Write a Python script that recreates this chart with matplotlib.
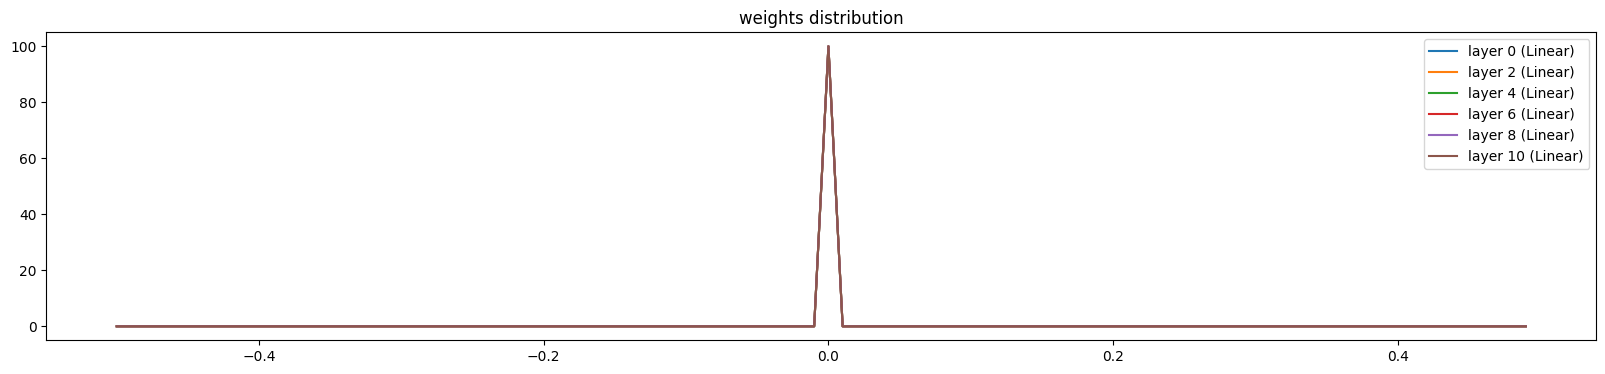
import matplotlib
matplotlib.use('Agg')
import matplotlib.pyplot as plt

# histogram bin left edges
bin_edges = [
    -0.50, -0.49, -0.48, -0.47, -0.46, -0.45, -0.44, -0.43, -0.42, -0.41,
    -0.40, -0.39, -0.38, -0.37, -0.36, -0.35, -0.34, -0.33, -0.32, -0.31,
    -0.30, -0.29, -0.28, -0.27, -0.26, -0.25, -0.24, -0.23, -0.22, -0.21,
    -0.20, -0.19, -0.18, -0.17, -0.16, -0.15, -0.14, -0.13, -0.12, -0.11,
    -0.10, -0.09, -0.08, -0.07, -0.06, -0.05, -0.04, -0.03, -0.02, -0.01,
    0.00, 0.01, 0.02, 0.03, 0.04, 0.05, 0.06, 0.07, 0.08, 0.09,
    0.10, 0.11, 0.12, 0.13, 0.14, 0.15, 0.16, 0.17, 0.18, 0.19,
    0.20, 0.21, 0.22, 0.23, 0.24, 0.25, 0.26, 0.27, 0.28, 0.29,
    0.30, 0.31, 0.32, 0.33, 0.34, 0.35, 0.36, 0.37, 0.38, 0.39,
    0.40, 0.41, 0.42, 0.43, 0.44, 0.45, 0.46, 0.47, 0.48, 0.49,
]

# density per bin (same for every layer: all weights are zero)
density = [
    0, 0, 0, 0, 0, 0, 0, 0, 0, 0,
    0, 0, 0, 0, 0, 0, 0, 0, 0, 0,
    0, 0, 0, 0, 0, 0, 0, 0, 0, 0,
    0, 0, 0, 0, 0, 0, 0, 0, 0, 0,
    0, 0, 0, 0, 0, 0, 0, 0, 0, 0,
    100, 0, 0, 0, 0, 0, 0, 0, 0, 0,
    0, 0, 0, 0, 0, 0, 0, 0, 0, 0,
    0, 0, 0, 0, 0, 0, 0, 0, 0, 0,
    0, 0, 0, 0, 0, 0, 0, 0, 0, 0,
    0, 0, 0, 0, 0, 0, 0, 0, 0, 0,
]

layers = [0, 2, 4, 6, 8, 10]

fig = plt.figure(figsize=(16.06, 3.74), dpi=100)
ax = fig.add_axes([46.3 / 1606, (374 - 340.3) / 374,
                   (1596.3 - 46.3) / 1606, (340.3 - 32.3) / 374])
for i in layers:
    ax.plot(bin_edges, density, label=f'layer {i} (Linear)')
ax.legend()
ax.set_title('weights distribution')
fig.savefig('out.png', dpi=100)
